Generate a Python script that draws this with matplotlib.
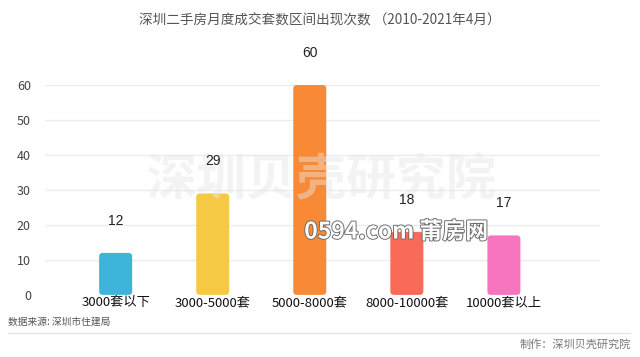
import matplotlib
matplotlib.use("Agg")
import matplotlib.pyplot as plt
import matplotlib.patheffects as pe
from matplotlib.patches import FancyBboxPatch

plt.rcParams['font.family'] = ['Noto Sans CJK SC', 'DejaVu Sans']

categories = ["3000套以下", "3000-5000套", "5000-8000套", "8000-10000套", "10000套以上"]
values = [12, 29, 60, 18, 17]
colors = ["#3DB5DA", "#F6C944", "#F98A35", "#F96A58", "#F774BF"]
yticks = [0, 10, 20, 30, 40, 50, 60]

fig = plt.figure(figsize=(6.4, 3.57), dpi=100)
ax = fig.add_axes([0.07, 0.174, 0.8675, 0.588])

x = list(range(len(categories)))
bars = ax.bar(x, values, width=0.34, color=colors, zorder=3)
for b, c in zip(bars, colors):
    b.set_visible(False)
    p = FancyBboxPatch((b.get_x(), b.get_y()), b.get_width(), b.get_height(),
                       boxstyle="round,pad=0,rounding_size=0.04",
                       mutation_aspect=25, facecolor=c, edgecolor="none", zorder=3)
    ax.add_patch(p)

ax.text(0.503, 0.495, "深圳贝壳研究院", transform=fig.transFigure,
        ha="center", va="center", fontsize=36, color="#e6e6e6", alpha=0.45,
        fontweight="bold", zorder=4, clip_on=False)

for xi, v in zip(x, values):
    ax.annotate(str(v), (xi, v), xytext=(0, 18), textcoords="offset points",
                ha="center", va="bottom", fontsize=10, color="#222222",
                family=["Liberation Sans", "DejaVu Sans"], zorder=5,
                annotation_clip=False)

ax.set_xlim(-0.73, 4.99)
ax.set_ylim(0, 60)
ax.set_yticks(yticks)
ax.set_xticks(x)
ax.set_xticklabels(categories, fontsize=9.5, color="#111111")
ax.tick_params(axis="y", length=0, labelsize=9, labelcolor="#444444", pad=10)
ax.tick_params(axis="x", length=0, pad=1)
ax.grid(axis="y", color="#ececec", linewidth=1, zorder=0)
for s in ax.spines.values():
    s.set_visible(False)

fig.text(0.5, 0.945, "深圳二手房月度成交套数区间出现次数 （2010-2021年4月）",
         ha="center", va="center", fontsize=9.8, color="#555555")
fig.text(0.619, 0.35, "0594.com 莆房网", ha="center", va="center", fontsize=16.5,
         color="white", fontweight="bold", zorder=10,
         path_effects=[pe.withStroke(linewidth=1.3, foreground="#666666")])
fig.text(0.012, 0.098, "数据来源: 深圳市住建局", ha="left", va="center",
         fontsize=7, color="#555555")
fig.add_artist(plt.Line2D([0.012, 0.985], [0.068, 0.068], color="#e6e6e6", linewidth=1))
fig.text(0.985, 0.035, "制作：深圳贝壳研究院", ha="right", va="center",
         fontsize=8, color="#777777")

fig.savefig("out.png", dpi=100)
